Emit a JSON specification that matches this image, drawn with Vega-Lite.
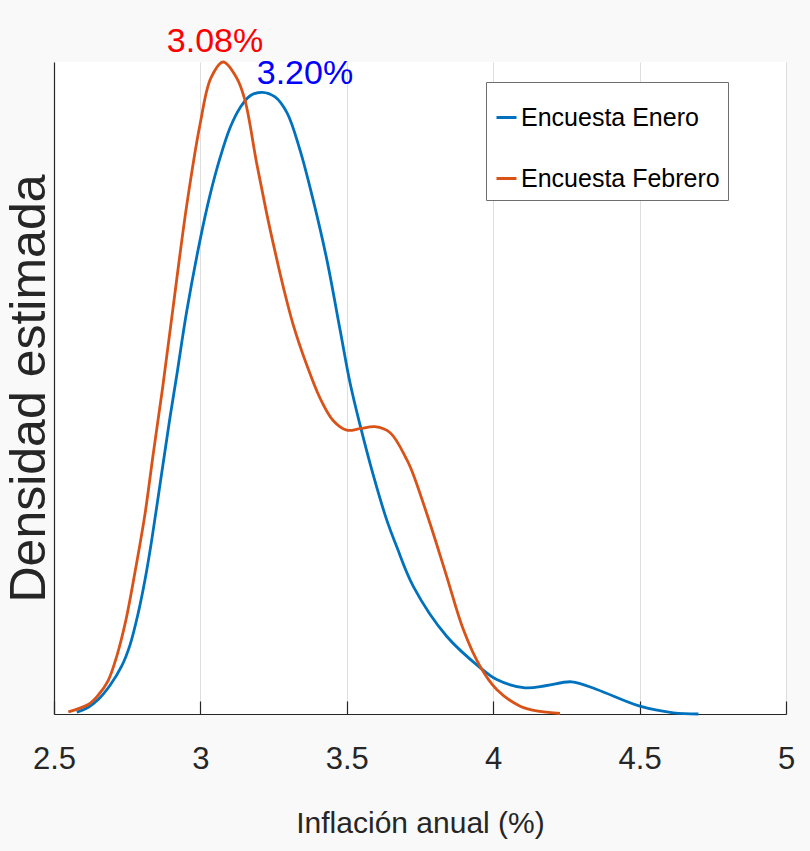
{
  "$schema": "https://vega.github.io/schema/vega-lite/v6.json",
  "width": 732,
  "height": 652,
  "autosize": "none",
  "padding": {"left": 54, "top": 62, "right": 24, "bottom": 137},
  "background": "#f9f9f9",
  "view": {"fill": "white", "stroke": null},
  "config": {
    "font": "Liberation Sans, Arial, sans-serif"
  },
  "datasets": {
    "curvas": [
      {"inflacion": 2.578, "densidad": 0.0055, "serie": "Encuesta Enero"},
      {"inflacion": 2.616, "densidad": 0.0199, "serie": "Encuesta Enero"},
      {"inflacion": 2.651, "densidad": 0.0444, "serie": "Encuesta Enero"},
      {"inflacion": 2.691, "densidad": 0.0874, "serie": "Encuesta Enero"},
      {"inflacion": 2.731, "densidad": 0.1465, "serie": "Encuesta Enero"},
      {"inflacion": 2.76, "densidad": 0.213, "serie": "Encuesta Enero"},
      {"inflacion": 2.788, "densidad": 0.3111, "serie": "Encuesta Enero"},
      {"inflacion": 2.811, "densidad": 0.4123, "serie": "Encuesta Enero"},
      {"inflacion": 2.834, "densidad": 0.5349, "serie": "Encuesta Enero"},
      {"inflacion": 2.868, "densidad": 0.7402, "serie": "Encuesta Enero"},
      {"inflacion": 2.896, "densidad": 0.9088, "serie": "Encuesta Enero"},
      {"inflacion": 2.919, "densidad": 1.0375, "serie": "Encuesta Enero"},
      {"inflacion": 2.953, "densidad": 1.2337, "serie": "Encuesta Enero"},
      {"inflacion": 2.999, "densidad": 1.4544, "serie": "Encuesta Enero"},
      {"inflacion": 3.033, "densidad": 1.5923, "serie": "Encuesta Enero"},
      {"inflacion": 3.067, "densidad": 1.7057, "serie": "Encuesta Enero"},
      {"inflacion": 3.101, "densidad": 1.7977, "serie": "Encuesta Enero"},
      {"inflacion": 3.135, "densidad": 1.859, "serie": "Encuesta Enero"},
      {"inflacion": 3.169, "densidad": 1.8958, "serie": "Encuesta Enero"},
      {"inflacion": 3.211, "densidad": 1.9071, "serie": "Encuesta Enero"},
      {"inflacion": 3.255, "densidad": 1.8927, "serie": "Encuesta Enero"},
      {"inflacion": 3.296, "densidad": 1.8437, "serie": "Encuesta Enero"},
      {"inflacion": 3.34, "densidad": 1.7303, "serie": "Encuesta Enero"},
      {"inflacion": 3.385, "densidad": 1.577, "serie": "Encuesta Enero"},
      {"inflacion": 3.432, "densidad": 1.3931, "serie": "Encuesta Enero"},
      {"inflacion": 3.477, "densidad": 1.1785, "serie": "Encuesta Enero"},
      {"inflacion": 3.511, "densidad": 1.0161, "serie": "Encuesta Enero"},
      {"inflacion": 3.545, "densidad": 0.8874, "serie": "Encuesta Enero"},
      {"inflacion": 3.59, "densidad": 0.7341, "serie": "Encuesta Enero"},
      {"inflacion": 3.636, "densidad": 0.5962, "serie": "Encuesta Enero"},
      {"inflacion": 3.67, "densidad": 0.5143, "serie": "Encuesta Enero"},
      {"inflacion": 3.727, "densidad": 0.3917, "serie": "Encuesta Enero"},
      {"inflacion": 3.841, "densidad": 0.2385, "serie": "Encuesta Enero"},
      {"inflacion": 3.955, "densidad": 0.1425, "serie": "Encuesta Enero"},
      {"inflacion": 4.012, "densidad": 0.1057, "serie": "Encuesta Enero"},
      {"inflacion": 4.109, "densidad": 0.0803, "serie": "Encuesta Enero"},
      {"inflacion": 4.183, "densidad": 0.0874, "serie": "Encuesta Enero"},
      {"inflacion": 4.268, "densidad": 0.0987, "serie": "Encuesta Enero"},
      {"inflacion": 4.354, "densidad": 0.0751, "serie": "Encuesta Enero"},
      {"inflacion": 4.501, "densidad": 0.0239, "serie": "Encuesta Enero"},
      {"inflacion": 4.615, "densidad": 0.0037, "serie": "Encuesta Enero"},
      {"inflacion": 4.701, "densidad": 0.0, "serie": "Encuesta Enero"},
      {"inflacion": 2.549, "densidad": 0.0067, "serie": "Encuesta Febrero"},
      {"inflacion": 2.617, "densidad": 0.0291, "serie": "Encuesta Febrero"},
      {"inflacion": 2.65, "densidad": 0.0567, "serie": "Encuesta Febrero"},
      {"inflacion": 2.685, "densidad": 0.1027, "serie": "Encuesta Febrero"},
      {"inflacion": 2.715, "densidad": 0.1793, "serie": "Encuesta Febrero"},
      {"inflacion": 2.746, "densidad": 0.2897, "serie": "Encuesta Febrero"},
      {"inflacion": 2.777, "densidad": 0.4368, "serie": "Encuesta Febrero"},
      {"inflacion": 2.811, "densidad": 0.6146, "serie": "Encuesta Febrero"},
      {"inflacion": 2.839, "densidad": 0.7985, "serie": "Encuesta Febrero"},
      {"inflacion": 2.871, "densidad": 1.0008, "serie": "Encuesta Febrero"},
      {"inflacion": 2.907, "densidad": 1.249, "serie": "Encuesta Febrero"},
      {"inflacion": 2.953, "densidad": 1.5586, "serie": "Encuesta Febrero"},
      {"inflacion": 2.999, "densidad": 1.81, "serie": "Encuesta Febrero"},
      {"inflacion": 3.036, "densidad": 1.951, "serie": "Encuesta Febrero"},
      {"inflacion": 3.078, "densidad": 2.0, "serie": "Encuesta Febrero"},
      {"inflacion": 3.124, "densidad": 1.951, "serie": "Encuesta Febrero"},
      {"inflacion": 3.152, "densidad": 1.8835, "serie": "Encuesta Febrero"},
      {"inflacion": 3.192, "densidad": 1.6904, "serie": "Encuesta Febrero"},
      {"inflacion": 3.226, "densidad": 1.5372, "serie": "Encuesta Febrero"},
      {"inflacion": 3.249, "densidad": 1.4421, "serie": "Encuesta Febrero"},
      {"inflacion": 3.283, "densidad": 1.3103, "serie": "Encuesta Febrero"},
      {"inflacion": 3.317, "densidad": 1.1939, "serie": "Encuesta Febrero"},
      {"inflacion": 3.363, "densidad": 1.0713, "serie": "Encuesta Febrero"},
      {"inflacion": 3.408, "densidad": 0.9701, "serie": "Encuesta Febrero"},
      {"inflacion": 3.454, "densidad": 0.8996, "serie": "Encuesta Febrero"},
      {"inflacion": 3.5, "densidad": 0.8705, "serie": "Encuesta Febrero"},
      {"inflacion": 3.545, "densidad": 0.8751, "serie": "Encuesta Febrero"},
      {"inflacion": 3.596, "densidad": 0.8812, "serie": "Encuesta Febrero"},
      {"inflacion": 3.648, "densidad": 0.8628, "serie": "Encuesta Febrero"},
      {"inflacion": 3.705, "densidad": 0.78, "serie": "Encuesta Febrero"},
      {"inflacion": 3.727, "densidad": 0.735, "serie": "Encuesta Febrero"},
      {"inflacion": 3.784, "densidad": 0.585, "serie": "Encuesta Febrero"},
      {"inflacion": 3.841, "densidad": 0.4224, "serie": "Encuesta Febrero"},
      {"inflacion": 3.898, "densidad": 0.259, "serie": "Encuesta Febrero"},
      {"inflacion": 3.955, "densidad": 0.1465, "serie": "Encuesta Febrero"},
      {"inflacion": 4.012, "densidad": 0.0751, "serie": "Encuesta Febrero"},
      {"inflacion": 4.092, "densidad": 0.0239, "serie": "Encuesta Febrero"},
      {"inflacion": 4.16, "densidad": 0.0077, "serie": "Encuesta Febrero"},
      {"inflacion": 4.228, "densidad": 0.0015, "serie": "Encuesta Febrero"}
    ],
    "etiquetas": [
      {"inflacion": 3.05, "densidad": 2.031, "texto": "3.08%", "serie": "Encuesta Febrero"},
      {"inflacion": 3.357, "densidad": 1.933, "texto": "3.20%", "serie": "Encuesta Enero"}
    ]
  },
  "layer": [
    {
      "data": {"name": "curvas"},
      "mark": {"type": "line", "interpolate": "catmull-rom", "strokeWidth": 2.8, "clip": false},
      "encoding": {
        "x": {
          "field": "inflacion", "type": "quantitative",
          "scale": {"domain": [2.5, 5], "nice": false, "zero": false},
          "axis": {
            "title": "Inflación anual (%)",
            "values": [2.5, 3, 3.5, 4, 4.5, 5],
            "format": "~g",
            "grid": true, "gridColor": "#dedede", "gridWidth": 1,
            "domainColor": "#262626", "domainWidth": 1.2,
            "ticks": true, "tickSize": -13, "tickColor": "#262626", "tickWidth": 1.2,
            "labelFontSize": 31, "labelColor": "#262626", "labelPadding": 43,
            "labelFlush": false,
            "titleFontSize": 30, "titleFontWeight": "normal", "titleColor": "#262626",
            "titlePadding": 34
          }
        },
        "y": {
          "field": "densidad", "type": "quantitative",
          "scale": {"domain": [0, 2.0], "nice": false},
          "axis": {
            "title": "Densidad estimada",
            "labels": false, "ticks": false, "grid": false,
            "domainColor": "#262626", "domainWidth": 1.2,
            "titleFontSize": 50, "titleFontWeight": "normal", "titleColor": "#262626",
            "titlePadding": 0
          }
        },
        "color": {
          "field": "serie", "type": "nominal",
          "scale": {"domain": ["Encuesta Enero", "Encuesta Febrero"], "range": ["#0072BD", "#D95319"]},
          "legend": {
            "title": " ", "titleFontSize": 8, "titlePadding": 7,
            "orient": "none", "legendX": 432, "legendY": 20,
            "direction": "vertical",
            "symbolType": "stroke", "symbolSize": 400, "symbolStrokeWidth": 3,
            "labelFontSize": 25, "labelColor": "#000000", "labelOffset": 2,
            "labelLimit": 400,
            "rowPadding": 35, "padding": 8,
            "fillColor": "white", "strokeColor": "#6e6e6e", "cornerRadius": 0
          }
        }
      }
    },
    {
      "data": {"name": "etiquetas"},
      "transform": [{"filter": "datum.serie === 'Encuesta Febrero'"}],
      "mark": {"type": "text", "color": "#ff0000", "fontSize": 34, "baseline": "alphabetic", "align": "center", "clip": false},
      "encoding": {
        "x": {"field": "inflacion", "type": "quantitative"},
        "y": {"field": "densidad", "type": "quantitative"},
        "text": {"field": "texto"}
      }
    },
    {
      "data": {"name": "etiquetas"},
      "transform": [{"filter": "datum.serie === 'Encuesta Enero'"}],
      "mark": {"type": "text", "color": "#0000ff", "fontSize": 34, "baseline": "alphabetic", "align": "center", "clip": false},
      "encoding": {
        "x": {"field": "inflacion", "type": "quantitative"},
        "y": {"field": "densidad", "type": "quantitative"},
        "text": {"field": "texto"}
      }
    }
  ]
}
